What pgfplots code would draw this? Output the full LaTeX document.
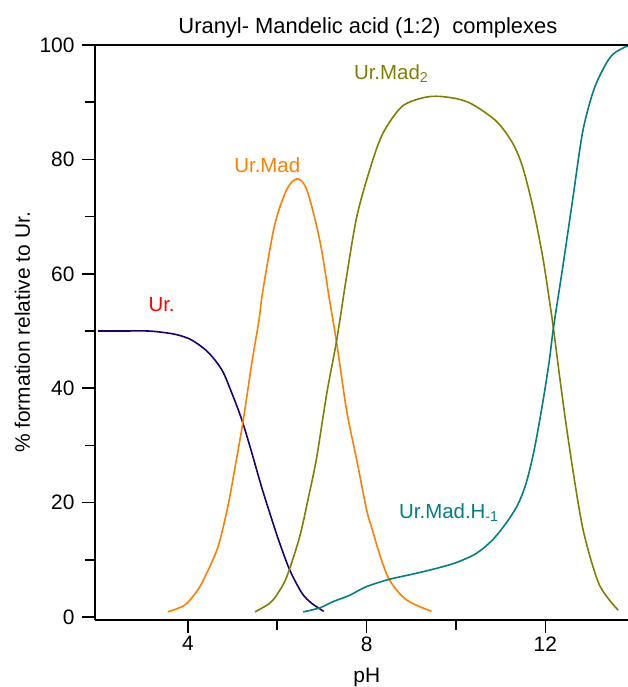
\documentclass[border=0pt]{standalone}
\usepackage{fontspec}
\setmainfont{Liberation Sans}
\usepackage{pgfplots}
\pgfplotsset{compat=1.18}
\definecolor{urcol}{RGB}{30,0,110}
\definecolor{madcol}{RGB}{255,128,0}
\definecolor{madtwo}{RGB}{128,128,0}
\definecolor{madh}{RGB}{0,128,128}
\definecolor{labred}{RGB}{255,0,0}
\newcommand{\lbl}{\fontsize{20.5}{20.5}\selectfont}
\begin{document}
\begin{tikzpicture}
\begin{axis}[
  at={(0,0)}, anchor=south west,
  scale only axis, width=533bp, height=575bp,
  xmin=1.92, xmax=13.85, ymin=-0.52, ymax=100,
  axis lines=left, axis line style={-, line width=1.6bp},
  xtick={4,8,12}, ytick={0,20,...,100},
  minor x tick num=1, minor y tick num=1,
  tick align=outside, major tick length=13bp, minor tick length=10bp,
  every tick/.style={black, line width=1.6bp},
  tick label style={font=\fontsize{21}{21}\selectfont},
  yticklabel style={xshift=-4bp},
  /pgf/number format/assume math mode=true,
  title={Uranyl- Mandelic acid (1:2)\ \ complexes},
  title style={font=\fontsize{22}{22}\selectfont, at={(axis description cs:0.512,1.0104)}, anchor=base},
  xlabel={pH},
  xlabel style={font=\fontsize{21}{21}\selectfont, at={(axis description cs:0.51,-0.108)}, anchor=base},
  ylabel={\% formation relative to Ur.},
  ylabel style={font=\fontsize{21}{21}\selectfont, at={(axis description cs:-0.122,0.5)}, anchor=base},
  every axis plot/.append style={line width=1.6bp, smooth, tension=0.5, no marks},
]
% Ur.
\addplot[urcol] coordinates {
(1.99,50.0) (2.5,50.0) (3.11,50.0) (3.5,49.7) (3.78,49.3) (4.09,48.4)
(4.45,46.3) (4.76,43.2) (4.98,39.2) (5.21,34.4) (5.43,28.7) (5.65,22.7)
(5.88,17.0) (6.05,13.0) (6.28,8.2) (6.55,4.2) (6.77,2.4) (7.04,1.0)};
% Ur.Mad
\addplot[madcol] coordinates {
(3.55,0.9) (3.93,2.1) (4.2,4.5) (4.38,7.0) (4.67,12.2) (4.89,19.2)
(5.05,26.0) (5.23,34.0) (5.43,44.4) (5.59,51.9) (5.68,57.2) (5.94,68.5)
(6.21,74.7) (6.44,76.6) (6.66,74.7) (6.95,65.9) (7.17,55.4) (7.33,47.9)
(7.55,36.2) (7.78,27.4) (8.0,18.7) (8.13,15.2) (8.29,11.0) (8.51,6.5)
(8.89,3.0) (9.45,1.0)};
% Ur.Mad2
\addplot[madtwo] coordinates {
(5.50,0.9) (5.83,2.4) (6.0,4.0) (6.21,7.0) (6.50,14.0) (6.70,21.0)
(6.88,27.8) (7.11,39.2) (7.33,48.4) (7.55,59.5) (7.78,70.0) (8.07,78.2)
(8.36,84.5) (8.80,89.3) (9.34,90.9) (9.79,90.9) (10.30,89.9) (10.9,86.7)
(11.27,82.8) (11.49,78.7) (11.72,71.7) (11.94,63.0) (12.09,55.4) (12.18,50.5)
(12.31,42.6) (12.46,33.9) (12.65,24.0) (12.83,15.8) (13.02,10.0) (13.21,5.6)
(13.43,3.0) (13.63,1.2)};
% Ur.Mad.H-1
\addplot[madh] coordinates {
(6.58,0.9) (6.95,1.6) (7.25,2.7) (7.62,3.8) (7.99,5.3) (8.51,6.6)
(9.03,7.5) (9.56,8.5) (10.0,9.5) (10.45,11.1) (10.82,13.5) (11.12,16.4)
(11.38,19.6) (11.57,23.4) (11.75,29.2) (11.94,37.4) (12.09,44.9) (12.18,50.5)
(12.39,61.2) (12.61,72.9) (12.83,84.6) (13.06,91.6) (13.28,95.6) (13.5,98.3)
(13.8,99.7) (13.9,99.8)};
\draw[line width=1.6bp] (rel axis cs:0,1) -- (rel axis cs:1,1);
\node[anchor=west, text=labred, font=\lbl] at (axis cs:3.04,54.7) {Ur.};
\node[anchor=west, text=madcol, font=\lbl] at (axis cs:4.96,79.0) {Ur.Mad};
\node[anchor=west, text=madtwo, font=\lbl] at (axis cs:7.64,95.0) {Ur.Mad\textsubscript{2}};
\node[anchor=west, text=madh, font=\lbl] at (axis cs:8.65,18.2) {Ur.Mad.H\textsubscript{-1}};
\end{axis}
\pgfresetboundingbox
\path (-95bp,-67bp) rectangle (533bp,620bp);
\end{tikzpicture}
\end{document}
